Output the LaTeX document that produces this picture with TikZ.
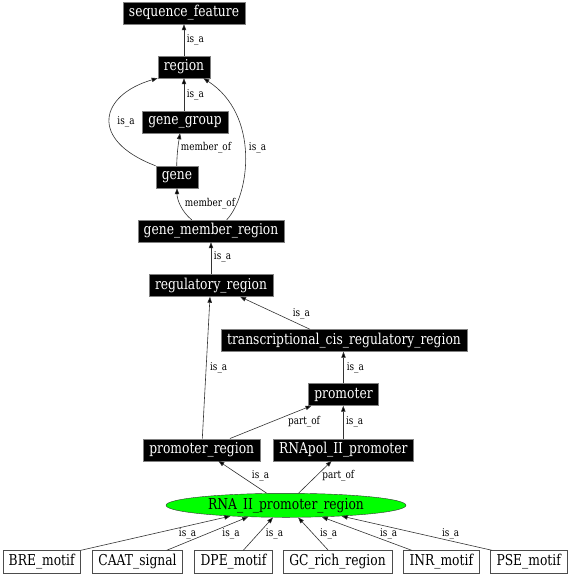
\documentclass[tikz,border=0pt]{standalone}
\usepackage{fontspec}
\usetikzlibrary{arrows.meta,shapes.geometric}
\newfontfamily\gvfont[FakeStretch=0.82]{DejaVu Serif}
\begin{document}
\begin{tikzpicture}[x=1pt,y=-1pt,
  blk/.style={draw=gray, fill=black, text=white, font=\gvfont\fontsize{15}{18}\selectfont, minimum height=22pt, inner xsep=6pt, inner ysep=0pt},
  wht/.style={draw=gray!60!black, fill=white, text=black, font=\gvfont\fontsize{15}{18}\selectfont, minimum height=23pt, inner xsep=6pt, inner ysep=0pt},
  ell/.style={ellipse, draw=gray!40!black, fill=green, text=black, font=\gvfont\fontsize{15}{18}\selectfont, minimum width=240pt, minimum height=24pt, inner sep=0pt},
  lbl/.style={font=\gvfont\fontsize{10.8}{12}\selectfont, inner sep=0pt, text=black},
  edge/.style={draw=gray!40!black, line width=0.6pt, -{Triangle[length=6pt,width=4.4pt,fill=black]}},
]
\useasboundingbox (0,0) rectangle (570,576);
% nodes
\node[blk] (seq) at (184,13) {sequence\_feature};
\node[blk] (region) at (184,67) {region};
\node[blk] (gg) at (185,122) {gene\_group};
\node[blk] (gene) at (177,177) {gene};
\node[blk] (gmr) at (211,231) {gene\_member\_region};
\node[blk] (reg) at (211,285.5) {regulatory\_region};
\node[blk] (trans) at (344,340.5) {transcriptional\_cis\_regulatory\_region};
\node[blk] (prom) at (343.5,394.5) {promoter};
\node[blk] (pr) at (201.7,449.7) {promoter\_region};
\node[blk] (rnapol) at (343.3,449.7) {RNApol\_II\_promoter};
\node[ell] (rna) at (286,505.3) {RNA\_II\_promoter\_region};
\node[wht] (bre) at (41.7,562) {BRE\_motif};
\node[wht] (caat) at (137.5,562) {CAAT\_signal};
\node[wht] (dpe) at (233.5,562) {DPE\_motif};
\node[wht] (gc) at (337.5,562) {GC\_rich\_region};
\node[wht] (inr) at (441.3,562) {INR\_motif};
\node[wht] (pse) at (528.7,562) {PSE\_motif};
% edges
\draw[edge] (region.north) -- (seq.south);
\draw[edge] ([xshift=-1pt]gg.north) -- (region.south);
\draw[edge] (gene.north west) .. controls (88,140) and (100,95) .. (region.south west);
\draw[edge] ([xshift=-0.3pt]gene.north) .. controls (177,150) and (179,140) .. ([xshift=-5pt]gg.south);
\draw[edge] ([xshift=-19.3pt]gmr.north) .. controls (182,212) and (177,200) .. (gene.south);
\draw[edge] ([xshift=15.7pt]gmr.north) .. controls (250,195) and (260,115) .. ([xshift=-7pt]region.south east);
\draw[edge] (reg.north) -- (gmr.south);
\draw[edge] ([xshift=-34pt]trans.north) -- ([xshift=29pt]reg.south);
\draw[edge] (prom.north) -- (prom.north |- trans.south);
\draw[edge] ([xshift=0.6pt]pr.north) -- ([xshift=-1pt]reg.south);
\draw[edge] ([xshift=28.3pt]pr.north) -- ([xshift=-32pt]prom.south);
\draw[edge] (rnapol.north) -- (rnapol.north |- prom.south);
\draw[edge] (rna.148.5) -- ([xshift=16.6pt]pr.south);
\draw[edge] (rna.44.1) -- ([xshift=-11.6pt]rnapol.south);
\draw[edge] (bre.north east) -- (rna.191.1);
\draw[edge] ([xshift=29.2pt]caat.north) -- (rna.197.6);
\draw[edge] ([xshift=9.8pt]dpe.north) -- (rna.223);
\draw[edge] ([xshift=-9.2pt]gc.north) -- (rna.315.9);
\draw[edge] ([xshift=-29.6pt]inr.north) -- (rna.342.2);
\draw[edge] ([xshift=1.7pt]pse.north west) -- (rna.349.6);
% labels
\node[lbl] (l1) at (195.3,40) {is\_a};
\node[lbl] (l2) at (195.3,95) {is\_a};
\node[lbl] (l3) at (126,122) {is\_a};
\node[lbl] (l4) at (206,148) {member\_of};
\node[lbl] (l5) at (210,203.5) {member\_of};
\node[lbl] (l6) at (257.5,148) {is\_a};
\node[lbl] (l7) at (222.5,257) {is\_a};
\node[lbl] (l8) at (301.3,313.3) {is\_a};
\node[lbl] (l9) at (355.3,367.3) {is\_a};
\node[lbl] (l10) at (218.7,367.7) {is\_a};
\node[lbl] (l11) at (304,421.7) {part\_of};
\node[lbl] (l12) at (354.7,421.7) {is\_a};
\node[lbl] (l13) at (260.5,475.7) {is\_a};
\node[lbl] (l14) at (338.3,475.7) {part\_of};
\node[lbl] (l15) at (187.5,534) {is\_a};
\node[lbl] (l16) at (231,534) {is\_a};
\node[lbl] (l17) at (274.5,534) {is\_a};
\node[lbl] (l18) at (328.7,534) {is\_a};
\node[lbl] (l19) at (388.7,534) {is\_a};
\node[lbl] (l20) at (450.7,534) {is\_a};
\end{tikzpicture}
\end{document}
